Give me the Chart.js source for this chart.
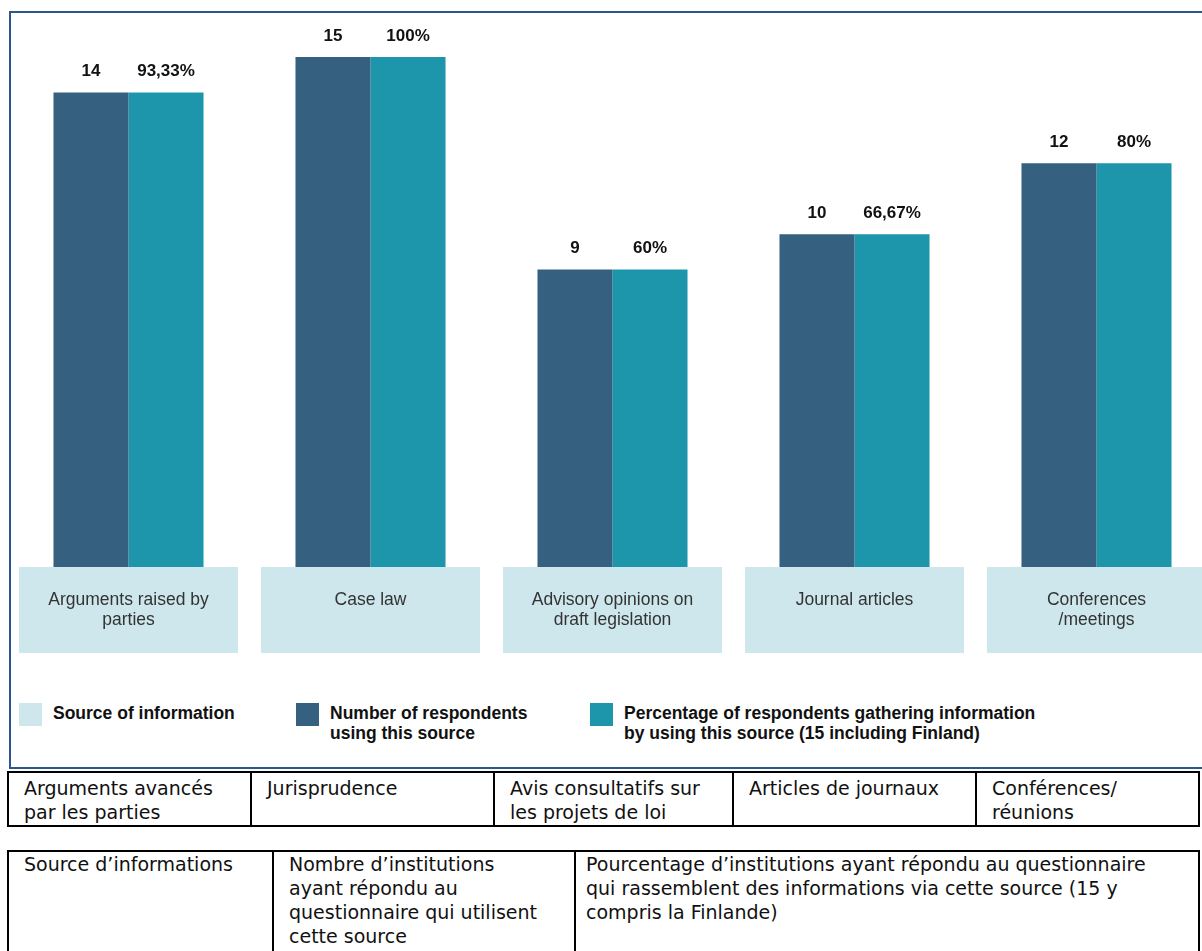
<!DOCTYPE html>
<html lang="fr">
<head>
<meta charset="utf-8">
<title>Sources d'information</title>
<script src="https://cdn.jsdelivr.net/npm/chart.js@4.4.1/dist/chart.umd.min.js"></script>
<style>
    html, body {
        margin: 0;
        padding: 0;
        background: #ffffff;
        overflow: hidden;
        width: 1202px;
        height: 951px;
        position: relative;
    }

    #frame {
        position: absolute;
        left: 9px;
        top: 11px;
        width: 1220px;
        height: 754px;
        border: 2px solid #2b5690;
    }

    #chartCanvas {
        position: absolute;
        left: 0;
        top: 0;
    }

    .legend-item {
        position: absolute;
        top: 703px;
        font-family: "Liberation Sans", Arial, sans-serif;
        font-weight: bold;
        font-size: 17.5px;
        line-height: 20px;
        color: #111111;
    }

    .legend-item .swatch {
        position: absolute;
        left: 0;
        top: 0;
        width: 23px;
        height: 23px;
    }

    .legend-item .text {
        position: absolute;
        left: 34px;
        top: 0;
        white-space: nowrap;
    }

    table {
        position: absolute;
        left: 7px;
        width: 1191px;
        border-collapse: collapse;
        table-layout: fixed;
        font-family: "DejaVu Sans", Verdana, sans-serif;
        font-size: 19px;
        line-height: 24px;
        color: #111111;
    }

    td {
        border: 2px solid #000000;
        vertical-align: top;
        padding: 3px 10px 1px 15px;
    }

    #tableSources {
        top: 771px;
    }

    #tableLegend {
        top: 850px;
    }

    #tableLegend td {
        padding-top: 0;
        height: 120px;
    }
</style>
</head>
<body>

<div id="frame"></div>

<canvas id="chartCanvas" width="1230" height="660"></canvas>

<div class="legend-item" style="left: 19px;">
    <div class="swatch" style="background: #cde7ec;"></div>
    <div class="text">Source of information</div>
</div>

<div class="legend-item" style="left: 296px;">
    <div class="swatch" style="background: #36607f;"></div>
    <div class="text">Number of respondents<br>using this source</div>
</div>

<div class="legend-item" style="left: 590px;">
    <div class="swatch" style="background: #1d95ab;"></div>
    <div class="text">Percentage of respondents gathering information<br>by using this source (15 including Finland)</div>
</div>

<table id="tableSources">
    <colgroup>
        <col style="width: 243px;">
        <col style="width: 243px;">
        <col style="width: 239px;">
        <col style="width: 243px;">
        <col style="width: 223px;">
    </colgroup>
    <tr>
        <td>Arguments avancés par les parties</td>
        <td>Jurisprudence</td>
        <td>Avis consultatifs sur les projets de loi</td>
        <td>Articles de journaux</td>
        <td>Conférences/<br>réunions</td>
    </tr>
</table>

<table id="tableLegend">
    <colgroup>
        <col style="width: 265px;">
        <col style="width: 302px;">
        <col style="width: 624px;">
    </colgroup>
    <tr>
        <td>Source d’informations</td>
        <td style="padding-right: 24px;">Nombre d’institutions ayant répondu au questionnaire qui utilisent cette source</td>
        <td style="padding-left: 10px; padding-right: 24px;">Pourcentage d’institutions ayant répondu au questionnaire qui rassemblent des informations via cette source (15 y compris la Finlande)</td>
    </tr>
</table>

<script>
/*
    Sources of information used by the responding institutions
*/

const sources = [
    ["Arguments raised by", "parties"],
    ["Case law"],
    ["Advisory opinions on", "draft legislation"],
    ["Journal articles"],
    ["Conferences", "/meetings"]
];

const respondents = [14, 15, 9, 10, 12];

const percentages = [93.33, 100, 60, 66.67, 80];

const respondentsTotal = 15;

const COLORS = {
    respondents: "#36607f",
    percentage: "#1d95ab",
    sourceBox: "#cde7ec",
    valueText: "#111111",
    boxText: "#333333"
};

function formatPercent(value) {

    return value.toFixed(2).replace(/\.?0+$/, "").replace(".", ",") + "%";

}

/*
    Value labels above each bar
*/

const valueLabels = {

    id: "valueLabels",

    afterDatasetsDraw(chart) {

        const ctx = chart.ctx;

        ctx.save();

        ctx.font = "bold 17px 'Liberation Sans', Arial, sans-serif";
        ctx.fillStyle = COLORS.valueText;
        ctx.textAlign = "center";
        ctx.textBaseline = "middle";

        chart.data.datasets.forEach((dataset, datasetIndex) => {

            chart.getDatasetMeta(datasetIndex).data.forEach((bar, index) => {

                const value = dataset.data[index];

                const text = datasetIndex === 0
                    ? String(value)
                    : formatPercent(value);

                ctx.fillText(text, bar.x, bar.y - 21);

            });

        });

        ctx.restore();

    }

};

/*
    Category boxes drawn across the foot of each bar group
*/

const sourceBoxes = {

    id: "sourceBoxes",

    afterDatasetsDraw(chart) {

        const ctx = chart.ctx;
        const xScale = chart.scales.x;

        const boxWidth = 219;
        const boxTop = 567;
        const boxBottom = 653;

        ctx.save();

        sources.forEach((lines, index) => {

            const centerX = xScale.getPixelForValue(index);

            ctx.fillStyle = COLORS.sourceBox;
            ctx.fillRect(centerX - boxWidth / 2, boxTop, boxWidth, boxBottom - boxTop);

            ctx.font = "17.5px 'Liberation Sans', Arial, sans-serif";
            ctx.fillStyle = COLORS.boxText;
            ctx.textAlign = "center";
            ctx.textBaseline = "middle";

            lines.forEach((line, lineIndex) => {

                ctx.fillText(line, centerX, 600 + lineIndex * 20);

            });

        });

        ctx.restore();

    }

};

const canvas = document.getElementById("chartCanvas");

new Chart(canvas.getContext("2d"), {

    type: "bar",

    data: {

        labels: sources.map(lines => lines.join(" ")),

        datasets: [

            {
                label: "Number of respondents using this source",
                data: respondents,
                backgroundColor: COLORS.respondents,
                yAxisID: "y"
            },

            {
                label: "Percentage of respondents gathering information by using this source",
                data: percentages,
                backgroundColor: COLORS.percentage,
                yAxisID: "yPercent"
            }

        ]

    },

    options: {

        responsive: false,

        animation: false,

        devicePixelRatio: 1,

        categoryPercentage: 0.62,

        barPercentage: 1,

        layout: {

            padding: {
                left: 7.5,
                right: 12.5,
                top: 57,
                bottom: 71.5
            }

        },

        plugins: {

            legend: {
                display: false
            },

            tooltip: {
                enabled: false
            }

        },

        scales: {

            x: {
                display: false,
                offset: true,
                grid: {
                    display: false
                }
            },

            y: {
                display: false,
                min: 0,
                max: respondentsTotal
            },

            yPercent: {
                display: false,
                min: 0,
                max: 100
            }

        }

    },

    plugins: [sourceBoxes, valueLabels]

});
</script>

</body>
</html>
